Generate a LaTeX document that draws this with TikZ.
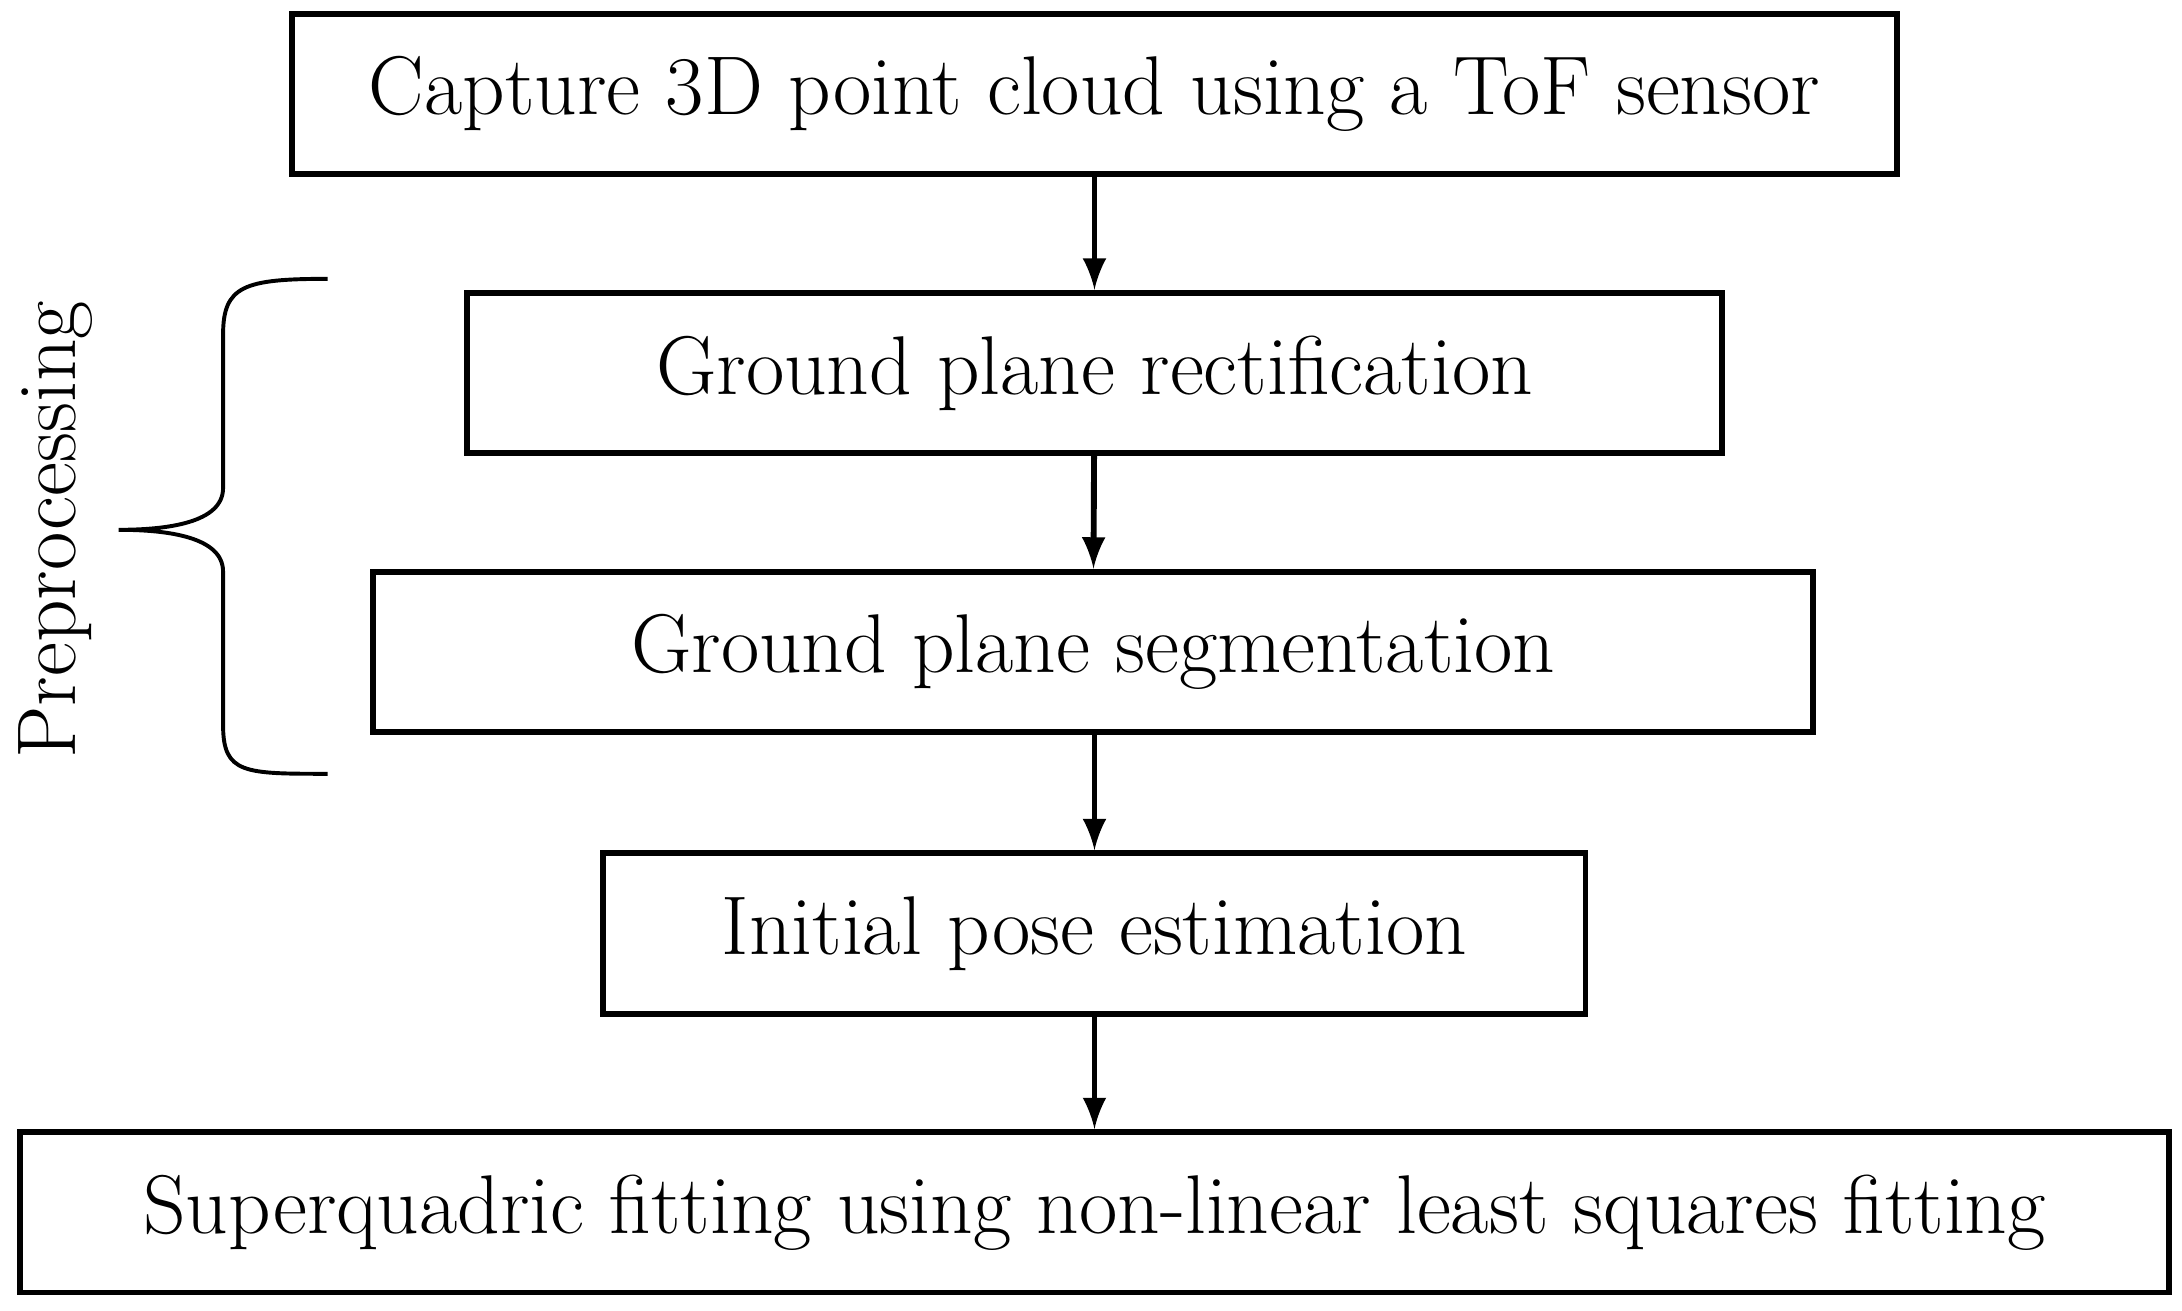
\documentclass[tikz,border=0pt]{standalone}
\usepackage{tikz}
\usetikzlibrary{arrows,positioning}
\begin{document}
\begin{tikzpicture}[>=latex', x=0.01cm, y=-0.01cm]
	\tikzset{block/.style={draw, very thick, rectangle, align=center, minimum height=1.15cm, inner sep=0pt, font=\fontsize{17}{20}\selectfont},
		flow/.style={->, very thick, >=latex}}
	\useasboundingbox (0,0) rectangle (1565,940);
	\node [block, minimum width=11.5cm] (capture) at (785,67.5) {Capture 3D point cloud using a ToF sensor};
	\node [block, minimum width=9cm] (rectify) at (785,267.5) {Ground plane rectification};
	\node [block, minimum width=10.32cm] (segment) at (784,467.5) {Ground plane segmentation};
	\node [block, minimum width=7.04cm] (pose) at (785,669.5) {Initial pose estimation};
	\node [block, minimum width=15.4cm] (fit) at (785,869.5) {Superquadric fitting using non-linear least squares fitting};
	\draw [flow] (capture) -- (rectify);
	\draw [flow] (rectify) -- (segment);
	\draw [flow] (segment.south -| pose.north) -- (pose);
	\draw [flow] (pose) -- (fit);
	% brace
	\draw [thick] (235,200) .. controls (175,200) and (160,205) .. (160,240) -- (160,350)
		.. controls (160,375) and (120,380) .. (85,380)
		.. controls (120,380) and (160,385) .. (160,410) -- (160,520)
		.. controls (160,555) and (175,555) .. (235,555);
	\node [rotate=90, font=\fontsize{17}{20}\selectfont] (prep) at (40,380) {Preprocessing};
\end{tikzpicture}
\end{document}
